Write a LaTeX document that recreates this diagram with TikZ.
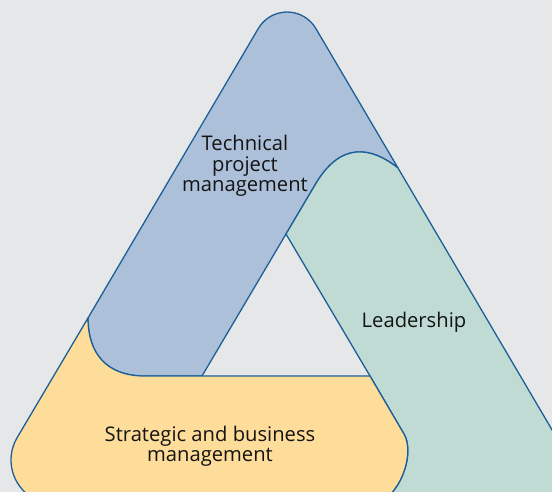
\documentclass[tikz,border=0pt]{standalone}
\usepackage{fontspec}
\setmainfont{Open Sans}
\definecolor{bg}{HTML}{E6E7E9}
\definecolor{tpm}{HTML}{ADC0DA}
\definecolor{lead}{HTML}{BFDBD4}
\definecolor{sbm}{HTML}{FEDD9A}
\definecolor{edge}{HTML}{1D5F96}
\definecolor{ink}{HTML}{141414}
\begin{document}
\begin{tikzpicture}[x=1pt,y=-1pt,
  band/.style={draw=edge, line width=1.3pt, line join=round},
  lbl/.style={font=\fontsize{20.2}{20.3}\selectfont, align=center, inner sep=0pt, text=ink}]
\useasboundingbox (0,0) rectangle (552,492);
\fill[bg] (0,0) rectangle (552,492);
\begin{scope}
\clip (0,0) rectangle (552,492);
% key points
\coordinate (bs) at (88,318);   % blue end, on outer left edge
\coordinate (be) at (145,376);  % blue end, on yellow top edge
\coordinate (ibl) at (202,376); % inner triangle, bottom left
\coordinate (it) at (286,234);  % inner triangle, top
\coordinate (ibr) at (370,376); % inner triangle, bottom right
\coordinate (gs) at (398,168);  % green cap, on outer right edge
\coordinate (ge) at (315,185);  % green cap, on cut line
\coordinate (ys) at (378,504);  % yellow end, on bottom edge
\coordinate (ye) at (404,434);  % yellow end, on cut line
\coordinate (apl) at (258.3,28.5);
\coordinate (yl) at (17.1,437.7);
% blue band
\path[band, fill=tpm] (bs) -- (apl) arc[start angle=210.5, end angle=329.5, radius=33.4]
  -- (gs) .. controls (370,146) and (340,142) .. (ge) -- (it) -- (ibl) -- (be)
  .. controls (105,376) and (88,352) .. (bs) -- cycle;
% green band
\path[band, fill=lead] (gs) .. controls (370,146) and (340,142) .. (ge) -- (it) -- (ibr) -- (ye)
  .. controls (414,451) and (404,490) .. (ys) -- (378,560) -- (628.6,560) -- cycle;
% yellow band
\path[band, fill=sbm] (bs) -- (yl) arc[start angle=210.5, end angle=90, radius=44]
  -- (ys) .. controls (404,490) and (414,451) .. (ye) -- (ibr) -- (ibl) -- (be)
  .. controls (105,376) and (88,352) .. (bs) -- cycle;
\end{scope}
\node[lbl] (tpmlabel) at (245,166) {Technical\\project\\management};
\node[lbl] (leadlabel) at (414,322) {Leadership};
\node[lbl] (sbmlabel) at (210,446) {Strategic and business\\management};
\end{tikzpicture}
\end{document}
